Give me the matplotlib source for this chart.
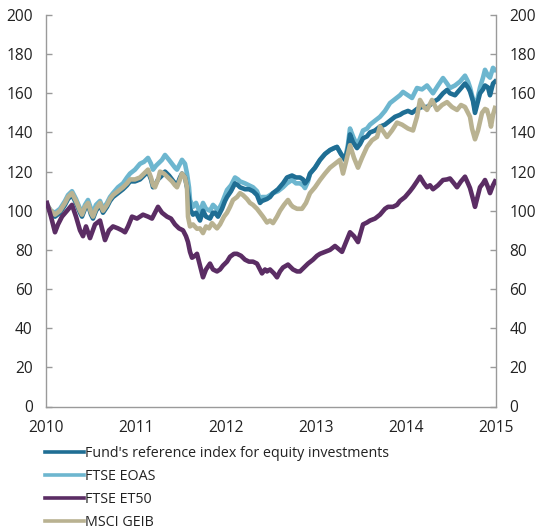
import matplotlib
matplotlib.use("Agg")
import matplotlib.pyplot as plt
from matplotlib.lines import Line2D

# ---- data (x read as pixel columns -> decimal years, values index 2010=100) ----
def yr(px):
    return [2010 + (p - 46) / 90.0 for p in px]

et50_px = [47,51,55,58,62,67,72,76,80,83,86,90,95,100,105,109,113,118,122,125,128,132,137,143,148,152,155,158,162,167,171,175,179,183,186,188,190,192,195,197,200,203,206,210,213,217,220,223,227,230,234,237,241,245,249,253,257,260,262,265,267,270,274,277,280,283,288,293,297,300,303,308,313,317,320,325,330,335,342,346,350,354,358,363,367,370,375,380,385,388,393,397,400,405,410,413,417,420,424,427,430,433,438,443,447,450,454,457,461,465,468,470,473,475,477,480,483,485,488,490,493,495]
et50_val = [104,97,89,93,97,100,103,97,90,87,92,86,93,95,85,90,92,91,90,89,92,97,96,98,97,96,99,102,99,97,96,93,91,90,87,84,79,76,77,78,72,66,70,73,70,69,70,72,74,76.5,78,78,77,75,74,74,73,70,68,70,69,70,68,66,69,71,72.5,70,69,69,70.5,73,75,77,78,79,80,82,79,84,89,87,84,93,94,95,96,98,101,102,102,103,105,107,110,112,115,117.4,114,112,113,111,113,115.7,116,116.5,114,112,115,117.4,114,111.6,106,102,106,112,114,115.7,112,109,113,115]

eoas_px = [47,51,55,60,65,68,72,76,80,82,85,88,91,93,96,100,103,107,110,113,118,123,127,130,135,140,144,148,151,153,156,158,162,165,169,172,175,177,180,182,185,187,189,190,193,196,200,203,206,210,213,215,218,222,225,227,231,235,238,240,245,249,253,257,260,262,267,270,273,278,283,287,292,296,300,303,305,308,310,315,320,325,330,334,337,341,345,348,350,353,357,360,363,367,370,375,380,385,390,395,400,403,408,412,417,422,427,430,433,438,443,447,450,455,460,465,468,470,473,475,477,480,483,485,488,490,493,495]
eoas_val = [103,100,99,101,105,108,110,106,101,99,103,105.5,101,99,103,105,101,104,107,109,112,114,117,119,121,124,125,127,124,121,123,124,126,128.5,126,124,122,121,124,126,124,119,112,105.5,102,104,99,104,101,100,103,102,100,104,108,110.6,113,117,116,115,114,113,112,110,106,107,107,108,109,110,112,114,115.7,114,114,113,111.6,115,119,122,126,129,131,132,132.6,129,126,134,142,138,133.5,137,141,142,144,146,148,151,155,157,159,160.7,159,157.6,162.7,162,164,162,160,164,167.8,165,162.7,164,166,169,166,163,157,151.5,156,163,168,172,169,168,173,172]

fund_px = eoas_px
fund_val = [103,99,97,99,103,106,108,104,99,97,101,103,98,96,100,103,99,102,105,107,109,111,113,115,115,116,118,120,116,112,114,116,118,120,118,116,114,113,117,119,117,112,106,101,98,99,95,100,97,96,99,99,97,101,105,107,110,114,113,112,111,111,110,108,104,105,106,107,109,111,114,117,118,117,117,116,114,116,119,122,126,129,131,132,132.6,129,126,132,139,135,132,134,137,138,140,141,143,144,146,148,149,150,151,150,152,153,153,154,155.5,157,160,161.7,160,159,162,165,163,161,156,150,154,160,162,164,163,159,165,166]

geib_px = [47,51,55,60,65,68,72,76,80,82,85,88,91,93,96,100,103,107,110,113,118,123,127,130,135,140,144,148,151,153,155,158,160,164,168,172,175,177,180,182,185,187,188,190,193,197,200,203,206,209,212,215,217,220,224,227,230,233,237,240,243,247,250,253,257,260,263,267,270,273,277,280,284,288,291,293,297,302,306,310,315,320,325,330,335,340,343,346,350,354,358,362,367,372,377,380,384,387,392,397,402,408,413,417,420,424,427,432,437,442,447,452,457,461,465,468,470,472,475,478,482,485,487,489,491,493,495]
geib_val = [103,100,98,100,104,107,109,105,100,98,102,104,99,97,101,104,100,103,106,108,110,112,114,116,116,117,119,121,117,113,112,116,120,119,117,115,113,112,116,119,117,112,97,92,93,90.8,91,88.6,92,91,93.7,92,91,93,97,99,102,105.5,107,109,108,106,104,103,101,99,97,94,95,93.7,97,100,103,105.5,103,102,101,101,104,109,112,115.7,119,122,124,126,119,125,133.5,127,122,127,132.6,136,137.7,143,140,137.7,141,145,144,142,141,148,156.6,153,151.5,156.6,151.5,154,155.5,153,151.5,154,153,150,148,142,136.5,141,150,152,151.5,148,143,149,152.5]

series_names = ["Fund's reference index for equity investments", "FTSE EOAS", "FTSE ET50", "MSCI GEIB"]
series_colors = ["#1f6e94", "#6db6cf", "#5b2d64", "#b9b291"]

y_ticks = [0, 20, 40, 60, 80, 100, 120, 140, 160, 180, 200]
x_ticks = [2010, 2011, 2012, 2013, 2014, 2015]

# ---- plotting ----
plt.rcParams['font.family'] = ['Open Sans', 'DejaVu Sans']
fig = plt.figure(figsize=(5.39, 5.30), dpi=100)
W, H = 539, 530
left, right, top, bottom = 46, 496, 15, 406.5
ax = fig.add_axes([left / W, 1 - bottom / H, (right - left) / W, (bottom - top) / H])

lw = 3.3
ax.plot(yr(eoas_px), eoas_val, color=series_colors[1], lw=lw, zorder=1)
ax.plot(yr(fund_px), fund_val, color=series_colors[0], lw=lw, zorder=2)
ax.plot(yr(geib_px), geib_val, color=series_colors[3], lw=lw, zorder=2.5)
ax.plot(yr(et50_px), et50_val, color=series_colors[2], lw=lw, zorder=3)

ax.set_xlim(2010, 2015)
ax.set_ylim(0, 200)
ax.set_xticks(x_ticks)
ax.set_xticklabels([str(t) for t in x_ticks])
ax.set_yticks(y_ticks)

spine_c = "#9a9a9a"
for s in ['left', 'right', 'bottom']:
    ax.spines[s].set_color(spine_c)
    ax.spines[s].set_linewidth(1.0)
ax.spines['top'].set_visible(False)

ax.tick_params(axis='y', which='both', direction='in', length=4, width=1.0, color=spine_c,
               labelsize=11.2, labelcolor="#222222", pad=9.5, left=True, right=True,
               labelleft=True, labelright=True)
ax.tick_params(axis='x', length=0, labelsize=11.2, labelcolor="#222222", pad=10)

lh = [Line2D([], [], color=c, lw=2.6) for c in series_colors]
fig.legend(lh, series_names, loc='upper left', bbox_to_anchor=(45 / W, 1 - 446 / H),
           frameon=False, fontsize=10.3, handlelength=2.75, handletextpad=0.05,
           borderpad=0, borderaxespad=0, labelspacing=0.55, labelcolor="#222222")

fig.savefig("out.png", dpi=100)
